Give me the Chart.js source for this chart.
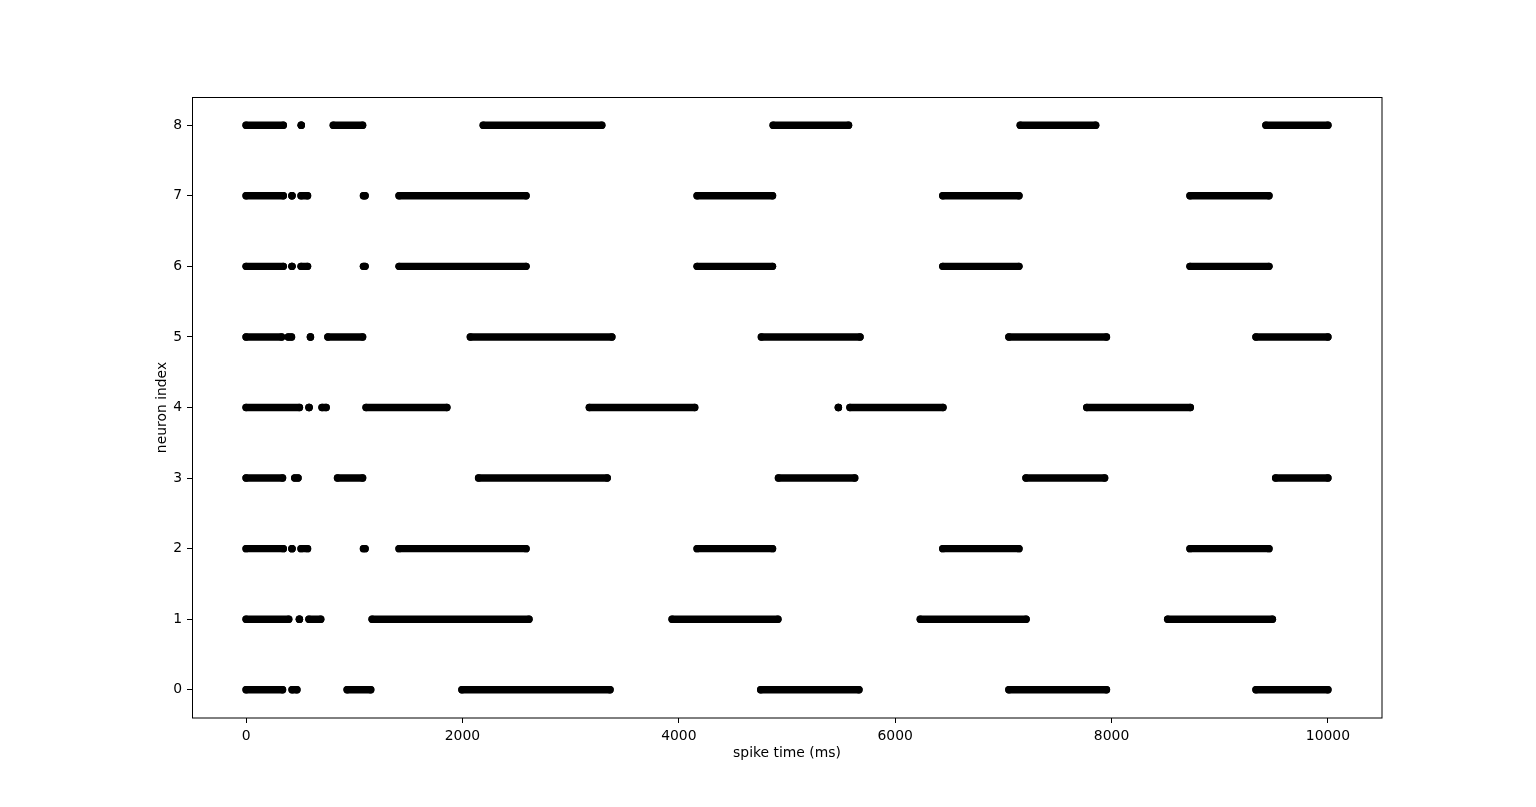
<!DOCTYPE html>
<html>
<head>
<meta charset="utf-8">
<script src="https://cdn.jsdelivr.net/npm/chart.js@4/dist/chart.umd.min.js"></script>
<style>
  html, body { margin: 0; padding: 0; background: #ffffff; }
  #wrap { width: 1536px; height: 807px; }
</style>
</head>
<body>
<div id="wrap"><canvas id="c" width="1536" height="807"></canvas></div>
<script>
// Burst intervals [first spike, last spike] in ms for each neuron index
const neuron0 = [[0,337],[425,470],[934,1152],[1995,3364],[4757,5665],[7051,7953],[9335,10000]];
const neuron1 = [[0,394],[493,493],[581,690],[1165,2615],[3938,4916],[6232,7210],[8519,9487]];
const neuron2 = [[0,344],[424,424],[508,568],[1085,1100],[1414,2588],[4169,4866],[6440,7144],[8725,9455]];
const neuron3 = [[0,337],[450,480],[845,1077],[2149,3338],[4921,5626],[7209,7936],[9517,10000]];
const neuron4 = [[0,493],[582,582],[702,740],[1109,1856],[3173,4147],[5475,5475],[5582,6442],[7771,8728]];
const neuron5 = [[0,328],[390,420],[595,595],[756,1077],[2073,3381],[4763,5675],[7051,7953],[9335,10000]];
const neuron6 = [[0,344],[424,424],[508,568],[1085,1100],[1414,2588],[4169,4866],[6440,7144],[8725,9455]];
const neuron7 = [[0,344],[424,424],[508,568],[1085,1100],[1414,2588],[4169,4866],[6440,7144],[8725,9455]];
const neuron8 = [[0,344],[510,510],[806,1077],[2192,3288],[4872,5569],[7156,7853],[9427,10000]];

const neurons = [neuron0, neuron1, neuron2, neuron3, neuron4, neuron5, neuron6, neuron7, neuron8];
const xTicks = [0, 2000, 4000, 6000, 8000, 10000];
const yTicks = [0, 1, 2, 3, 4, 5, 6, 7, 8];
const xLabel = 'spike time (ms)';
const yLabel = 'neuron index';

const datasets = [];
neurons.forEach((bursts, idx) => {
  bursts.forEach(([s, e]) => {
    datasets.push({
      data: [{x: s, y: idx}, {x: e, y: idx}],
      showLine: true,
      borderColor: '#000000',
      backgroundColor: '#000000',
      borderWidth: 7.4,
      borderCapStyle: 'round',
      pointRadius: 3.7,
      pointBorderWidth: 0,
      pointBackgroundColor: '#000000',
      pointHoverRadius: 3.7
    });
  });
});

const framePlugin = {
  id: 'frame',
  afterDraw(chart) {
    const a = chart.chartArea;
    const ctx = chart.ctx;
    ctx.save();
    ctx.strokeStyle = '#000000';
    ctx.lineWidth = 1;
    ctx.strokeRect(Math.round(a.left) + 0.5, Math.round(a.top) + 0.5,
                   Math.round(a.right - a.left) - 1 + 0.5, Math.round(a.bottom - a.top) - 1 + 0.5);
    ctx.restore();
  }
};

const font = { family: 'DejaVu Sans', size: 13.9 };

new Chart(document.getElementById('c'), {
  type: 'scatter',
  data: { datasets },
  options: {
    responsive: false,
    animation: false,
    events: [],
    layout: { padding: { left: 154, right: 154, top: 97, bottom: 45 } },
    plugins: { legend: { display: false }, tooltip: { enabled: false } },
    scales: {
      x: {
        type: 'linear',
        min: -500,
        max: 10500,
        afterBuildTicks: (s) => { s.ticks = xTicks.map(v => ({ value: v })); },
        afterFit: (s) => { s.height = 44; },
        grid: { display: true, drawOnChartArea: false, drawTicks: true, tickLength: 5, color: '#000000', lineWidth: 1 },
        border: { display: false },
        ticks: { color: '#000000', font, padding: 5, maxRotation: 0, autoSkip: false,
                 callback: (v) => String(v) },
        title: { display: true, text: xLabel, color: '#000000', font, padding: 0 }
      },
      y: {
        type: 'linear',
        min: -0.4,
        max: 8.4,
        afterBuildTicks: (s) => { s.ticks = yTicks.map(v => ({ value: v })); },
        afterFit: (s) => { s.width = 38; },
        grid: { display: true, drawOnChartArea: false, drawTicks: true, tickLength: 5, color: '#000000', lineWidth: 1 },
        border: { display: false },
        ticks: { color: '#000000', font, padding: 5, autoSkip: false,
                 callback: (v) => String(v) },
        title: { display: true, text: yLabel, color: '#000000', font, padding: 0 }
      }
    }
  },
  plugins: [framePlugin]
});
</script>
</body>
</html>
